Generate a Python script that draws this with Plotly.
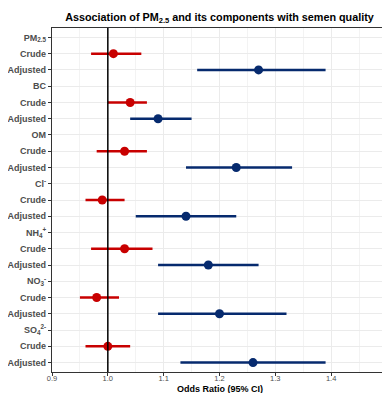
import plotly.graph_objects as go

components = ["PM<sub>2.5</sub>", "BC", "OM", "Cl<sup>-</sup>", "NH<sub>4</sub><sup>+</sup>", "NO<sub>3</sub><sup>-</sup>", "SO<sub>4</sub><sup>2-</sup>"]
crude_or = [1.01, 1.04, 1.03, 0.99, 1.03, 0.98, 1.00]
crude_lo = [0.97, 1.00, 0.98, 0.96, 0.97, 0.95, 0.96]
crude_hi = [1.06, 1.07, 1.07, 1.03, 1.08, 1.02, 1.04]
adj_or = [1.27, 1.09, 1.23, 1.14, 1.18, 1.20, 1.26]
adj_lo = [1.16, 1.04, 1.14, 1.05, 1.09, 1.09, 1.13]
adj_hi = [1.39, 1.15, 1.33, 1.23, 1.27, 1.32, 1.39]
x_ticks = [0.9, 1.0, 1.1, 1.2, 1.3, 1.4, 1.5]

RED = "#C80000"
NAVY = "#062A6E"
FONT = "Liberation Sans, Arial, sans-serif"

n_rows = len(components) * 3
tickvals, ticktext = [], []
crude_y, adj_y = [], []
for i, c in enumerate(components):
    base = n_rows - 1 - 3 * i
    tickvals += [base, base - 1, base - 2]
    ticktext += [c, "Crude", "Adjusted"]
    crude_y.append(base - 1)
    adj_y.append(base - 2)

fig = go.Figure()
for ys, ors, los, his, col in [(crude_y, crude_or, crude_lo, crude_hi, RED),
                                (adj_y, adj_or, adj_lo, adj_hi, NAVY)]:
    lx, ly = [], []
    for y, lo, hi in zip(ys, los, his):
        lx += [lo, hi, None]
        ly += [y, y, None]
    fig.add_trace(go.Scatter(x=lx, y=ly, mode="lines", line=dict(color=col, width=2.5),
                             showlegend=False, hoverinfo="skip"))
    fig.add_trace(go.Scatter(x=ors, y=ys, mode="markers", marker=dict(color=col, size=9),
                             showlegend=False))

fig.add_shape(type="line", x0=1.0, x1=1.0, y0=0, y1=1, xref="x", yref="paper",
              line=dict(color="black", width=1.5), layer="above")

fig.add_annotation(text="<b>Odds Ratio (95% CI)</b>", x=0.5, xref="paper",
                   y=-0.05, yref="paper", yanchor="middle", showarrow=False,
                   font=dict(size=9, color="black", family=FONT))

fig.update_layout(
    width=382, height=385,
    margin=dict(l=44, r=3, t=20, b=21),
    plot_bgcolor="white", paper_bgcolor="white",
    font=dict(family=FONT),
    title=dict(text="<b>Association of PM<sub>2.5</sub> and its components with semen quality</b>",
               x=0.5, xref="paper", xanchor="center", y=0.977, yanchor="middle",
               font=dict(size=10.8, color="black")),
    xaxis=dict(range=[0.9, 1.5], tickvals=x_ticks, ticktext=[f"{v:.1f}" for v in x_ticks],
               automargin=False,
               showgrid=True, gridcolor="#EBEBEB", gridwidth=1,
               minor=dict(dtick=0.05, showgrid=True, gridcolor="#F3F3F3", gridwidth=0.6),
               zeroline=False, showline=True, linecolor="#333333", linewidth=1.2, mirror=True,
               ticks="outside", ticklen=3, tickcolor="#333333", ticklabelstandoff=-4,
               tickfont=dict(size=7.5, color="#4D4D4D")),
    yaxis=dict(range=[-0.58, n_rows - 0.42], tickvals=tickvals, ticktext=ticktext,
               automargin=False,
               showgrid=True, gridcolor="#EBEBEB", gridwidth=1, zeroline=False,
               showline=True, linecolor="#333333", linewidth=1.2, mirror=True,
               ticks="outside", ticklen=3, tickcolor="#333333",
               tickfont=dict(size=9, color="#4D4D4D", family=FONT, weight="bold")),
)
fig.write_html("out.html")
